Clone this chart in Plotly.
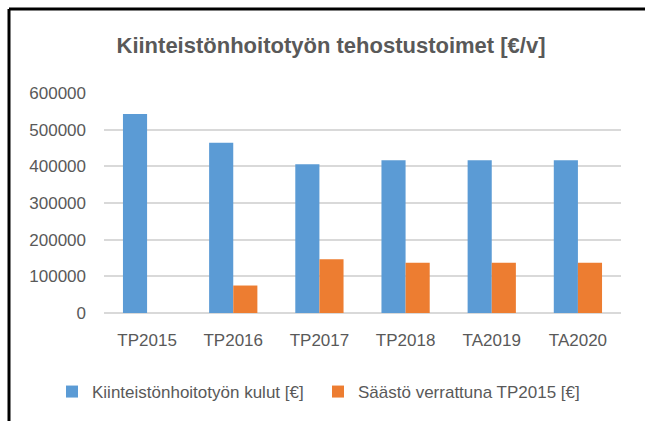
import plotly.graph_objects as go

categories = ["TP2015", "TP2016", "TP2017", "TP2018", "TA2019", "TA2020"]
kulut = [543000, 465000, 406000, 417000, 417000, 417000]
saasto = [0, 75000, 147000, 137000, 137000, 137000]
series_names = ["Kiinteistönhoitotyön kulut [€]", "Säästö verrattuna TP2015 [€]"]
y_ticks = [0, 100000, 200000, 300000, 400000, 500000, 600000]
y_tick_text = ["0", "100000", "200000", "300000", "400000", "500000", "600000"]

W, H = 645, 421
L, R, T, B = 104, 24, 93, 108
pw, ph = W - L - R, H - T - B

def px(x):
    return (x - L) / pw

def py(y):
    return (H - B - y) / ph

font = "Liberation Sans, Arial, sans-serif"
grey = "#595959"

fig = go.Figure()
fig.add_trace(go.Bar(x=categories, y=kulut, name=series_names[0],
                     marker=dict(color="#5b9bd5", line=dict(width=0))))
fig.add_trace(go.Bar(x=categories, y=saasto, name=series_names[1],
                     marker=dict(color="#ed7d31", line=dict(width=0))))

fig.update_layout(
    width=W, height=H,
    margin=dict(l=L, r=R, t=T, b=B, pad=0, autoexpand=False),
    paper_bgcolor="white", plot_bgcolor="white",
    barmode="group", bargap=0.44, bargroupgap=0,
    font=dict(family=font, size=17, color=grey),
    title=dict(text="<b>Kiinteistönhoitotyön tehostustoimet [€/v]</b>",
               x=px(331), xref="paper", xanchor="center",
               y=1 - 45 / H, yref="container", yanchor="middle",
               font=dict(family=font, size=22, color=grey)),
    xaxis=dict(showgrid=False, showline=False, ticks="", ticklabelstandoff=15,
               tickfont=dict(size=17, color=grey)),
    yaxis=dict(range=[0, 600500], tickvals=y_ticks, ticktext=y_tick_text, showgrid=True,
               gridcolor="#d9d9d9", gridwidth=2, zeroline=True,
               zerolinecolor="#d9d9d9", zerolinewidth=2, showline=False,
               ticks="", ticklabelstandoff=17, tickfont=dict(size=17, color=grey)),
    legend=dict(orientation="h", x=px(52), xanchor="left", y=py(392), yanchor="middle",
                font=dict(size=17, color=grey), itemwidth=30, traceorder="normal",
                entrywidth=221, entrywidthmode="pixels"),
    showlegend=True,
    shapes=[
        dict(type="line", xref="paper", yref="paper", x0=px(9), x1=px(645),
             y0=py(9), y1=py(9), line=dict(color="black", width=3)),
        dict(type="line", xref="paper", yref="paper", x0=px(9), x1=px(9),
             y0=py(9), y1=py(421), line=dict(color="black", width=3)),
    ],
)

fig.write_html("out.html", config={"displayModeBar": False},
               post_script="document.body.style.margin='0';")
